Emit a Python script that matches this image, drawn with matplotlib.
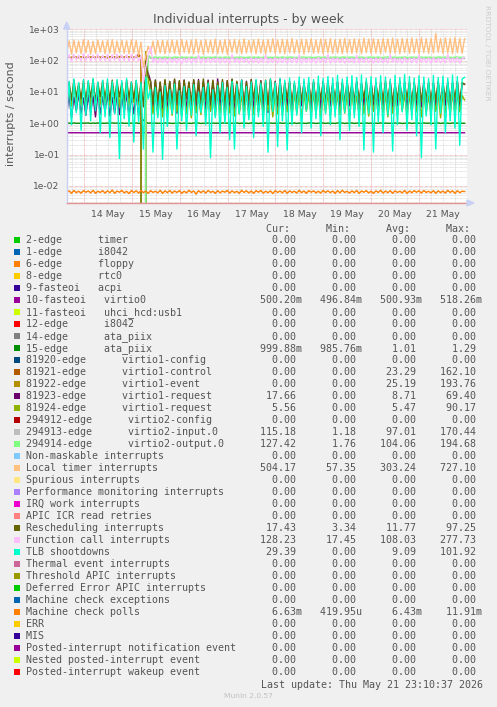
import numpy as np
import matplotlib
matplotlib.use("Agg")
import matplotlib.pyplot as plt
from matplotlib.patches import Rectangle, Polygon

W, H = 497, 707
TXT = "#555555"

# ---------------------------------------------------------------------------
# Data (day of May, 1 sample every 0.05 day; reboot around sample 32)
# ---------------------------------------------------------------------------
T_START = 13.645
T_END = 21.945
STEP = 0.05
X_MIN, X_MAX = 13.645, 21.99
Y_MIN, Y_MAX = 10 ** -2.553, 10 ** 3.026

days = [14, 15, 16, 17, 18, 19, 20, 21]
day_labels = ["14 May", "15 May", "16 May", "17 May", "18 May", "19 May", "20 May", "21 May"]
decades = [1e-2, 1e-1, 1e0, 1e1, 1e2, 1e3]

local_timer = [
    170, 430, 160, 455, 175, 420, 165, 465, 180, 440,
    160, 415, 170, 455, 185, 430, 165, 445, 175, 470,
    160, 425, 180, 450, 170, 435, 165, 460, 175, 440,
    150, 390, 60, 140, 290, 170, 420, 160, 440, 175,
    450, 165, 430, 180, 460, 170, 445, 160, 470, 185,
    435, 170, 455, 165, 480, 175, 440, 160, 465, 180,
    450, 170, 490, 165, 445, 175, 470, 160, 455, 185,
    480, 170, 460, 165, 500, 175, 445, 180, 470, 165,
    490, 175, 455, 160, 475, 185, 500, 170, 460, 175,
    485, 165, 470, 180, 510, 170, 455, 175, 490, 160,
    475, 185, 500, 170, 465, 175, 495, 165, 480, 180,
    505, 170, 470, 175, 490, 165, 515, 180, 475, 170,
    500, 175, 485, 165, 520, 180, 490, 170, 505, 175,
    480, 165, 510, 185, 495, 170, 525, 175, 490, 165,
    515, 180, 500, 170, 530, 175, 495, 165, 540, 180,
    505, 170, 520, 175, 727.1, 185, 510, 170, 535, 175,
    515, 165, 545, 180, 520, 170, 504.17,
]

function_call = [
    100, 155, 95, 160, 105, 150, 98, 165, 102, 158,
    96, 152, 104, 162, 99, 148, 101, 160, 95, 155,
    103, 163, 97, 150, 100, 158, 94, 161, 102, 154,
    98, 140, 20, 60, 150, 270, 88, 118, 84, 122,
    86, 120, 83, 125, 87, 118, 85, 123, 82, 119,
    88, 126, 84, 121, 86, 150, 83, 120, 87, 124,
    85, 118, 89, 127, 84, 122, 86, 119, 83, 155,
    87, 121, 85, 124, 88, 118, 84, 126, 86, 120,
    83, 123, 87, 148, 85, 119, 88, 125, 84, 121,
    86, 124, 83, 118, 87, 127, 85, 152, 84, 120,
    88, 123, 86, 119, 83, 126, 87, 121, 85, 157,
    84, 122, 88, 125, 86, 118, 83, 124, 87, 120,
    85, 149, 84, 121, 88, 126, 86, 119, 83, 123,
    87, 125, 85, 120, 84, 154, 88, 122, 86, 118,
    83, 126, 87, 121, 85, 124, 84, 150, 88, 119,
    86, 123, 83, 127, 87, 120, 85, 122, 84, 158,
    88, 121, 86, 125, 83, 119, 128.23,
]

virtio2_output = [
    0, 0, 0, 0, 0, 0, 0, 0, 0, 0,
    0, 0, 0, 0, 0, 0, 0, 0, 0, 0,
    0, 0, 0, 0, 0, 0, 0, 0, 0, 0,
    0, 0, 0, 1.76, 150, 128, 126, 130, 127, 129,
    126, 131, 127, 128, 125, 130, 128, 127, 131, 126,
    129, 127, 130, 126, 128, 132, 127, 129, 126, 130,
    128, 126, 131, 127, 129, 125, 130, 128, 127, 131,
    126, 129, 128, 130, 127, 126, 131, 128, 129, 127,
    130, 126, 128, 131, 127, 129, 126, 130, 128, 127,
    131, 128, 126, 129, 130, 127, 128, 126, 131, 129,
    127, 130, 128, 126, 129, 131, 127, 128, 130, 126,
    129, 127, 131, 128, 126, 130, 129, 127, 128, 131,
    126, 129, 128, 130, 127, 126, 131, 129, 128, 127,
    130, 128, 126, 129, 131, 127, 128, 130, 126, 129,
    128, 131, 127, 126, 130, 129, 128, 127, 131, 126,
    129, 130, 128, 127, 126, 131, 129, 128, 130, 127,
    128, 126, 130, 129, 127, 128, 127.42,
]

virtio2_input = [
    0, 0, 0, 0, 0, 0, 0, 0, 0, 0,
    0, 0, 0, 0, 0, 0, 0, 0, 0, 0,
    0, 0, 0, 0, 0, 0, 0, 0, 0, 0,
    0, 0, 0, 1.18, 140, 117, 115, 119, 116, 118,
    115, 120, 116, 117, 114, 119, 117, 116, 120, 115,
    118, 116, 119, 115, 117, 121, 116, 118, 115, 119,
    117, 115, 120, 116, 118, 114, 119, 117, 116, 120,
    115, 118, 117, 119, 116, 115, 120, 117, 118, 116,
    119, 115, 117, 120, 116, 118, 115, 119, 117, 116,
    120, 117, 115, 118, 119, 116, 117, 115, 120, 118,
    116, 119, 117, 115, 118, 120, 116, 117, 119, 115,
    118, 116, 120, 117, 115, 119, 118, 116, 117, 120,
    115, 118, 117, 119, 116, 115, 120, 118, 117, 116,
    119, 117, 115, 118, 120, 116, 117, 119, 115, 118,
    117, 120, 116, 115, 119, 118, 117, 116, 120, 115,
    118, 119, 117, 116, 115, 120, 118, 117, 119, 116,
    117, 115, 119, 118, 116, 117, 115.18,
]

# virtio1 control/event only exist before the reboot
virtio1_control = [
    125, 128, 122, 131, 126, 124, 129, 127, 123, 130,
    126, 128, 124, 132, 125, 127, 129, 123, 131, 126,
    128, 124, 130, 127, 125, 133, 126, 129, 124, 128,
    162.1, 127, 0, 0,
]

virtio1_event = [
    130, 133, 128, 135, 131, 129, 134, 132, 127, 136,
    131, 133, 129, 137, 130, 132, 134, 128, 135, 131,
    133, 129, 136, 132, 130, 138, 131, 134, 129, 133,
    135, 132, 0, 193.76, 0,
]

rescheduling = [
    6, 21, 5.5, 24, 7, 19, 6, 23, 5, 22,
    6.5, 25, 5, 20, 7, 23, 6, 21, 5.5, 24,
    6, 22, 7, 19, 5, 24, 6.5, 21, 6, 23,
    5, 20, 3.34, 97.25, 30, 22, 4.5, 24, 5, 21,
    4, 25, 5.5, 22, 4.5, 26, 5, 23, 4, 24,
    6, 21, 4.5, 25, 5, 23, 4, 26, 5.5, 22,
    4.5, 24, 5, 21, 6, 25, 4, 23, 5, 26,
    4.5, 22, 5.5, 24, 4, 21, 5, 25, 6, 23,
    4.5, 22, 5, 24, 4, 26, 5.5, 21, 4.5, 23,
    5, 20, 6, 22, 4.5, 19, 5, 21, 5.5, 18,
    6, 20, 5, 22, 4.5, 19, 6, 21, 5, 23,
    5.5, 18, 6, 21, 5, 20, 4.5, 22, 6, 19,
    5, 21, 5.5, 18, 6, 22, 4.5, 20, 5, 19,
    6, 21, 5, 23, 5.5, 20, 4.5, 18, 6, 22,
    5, 19, 6, 21, 4.5, 20, 5.5, 23, 5, 18,
    6, 21, 5, 19, 5.5, 22, 4.5, 20, 6, 21,
    5, 19, 6, 22, 4.5, 20, 17.43,
]

virtio1_request_a = [
    2, 8, 1.5, 7, 2.5, 9, 2, 6.5, 1.8, 8,
    2.2, 7.5, 1.6, 9, 2, 7, 2.4, 8.5, 1.7, 6.8,
    2.1, 8.2, 1.9, 7.2, 2.3, 9.1, 1.6, 7.8, 2, 8.4,
    1.8, 7, 0, 69.4, 40, 22, 2.5, 24, 2.2, 20,
    2.8, 23, 2.3, 21, 2.6, 25, 2.1, 22, 2.9, 24,
    2.4, 20, 2.7, 23, 2.2, 25, 2.5, 21, 2.3, 24,
    2.6, 22, 2.1, 26, 2.8, 21, 2.4, 23, 2.2, 25,
    2.7, 20, 2.3, 24, 2.5, 22, 2.1, 25, 2.6, 21,
    2.4, 23, 2.8, 20, 2.2, 24, 2.5, 22, 2.3, 26,
    3, 18, 3.5, 20, 2.8, 17, 3.2, 19, 3.6, 21,
    3.1, 18, 2.9, 20, 3.4, 17, 3, 22, 3.3, 19,
    3.5, 18, 3, 21, 2.8, 19, 3.2, 20, 3.6, 17,
    3.1, 22, 2.9, 19, 3.4, 18, 3, 21, 3.3, 20,
    3.5, 17, 3, 19, 2.8, 22, 3.2, 18, 3.6, 20,
    3.1, 21, 2.9, 18, 3.4, 20, 3, 19, 3.3, 22,
    3.5, 18, 3, 20, 2.8, 21, 3.2, 17, 3.6, 19,
    3.1, 20, 2.9, 21, 3.4, 19, 17.66,
]

virtio1_request_b = [
    4, 17, 3.5, 19, 4.5, 15, 3.8, 18, 4.2, 16,
    3.6, 19, 4.1, 17, 3.9, 15, 4.4, 18, 3.7, 16,
    4.3, 17, 3.5, 19, 4, 16, 3.8, 18, 4.6, 15,
    3.9, 17, 0, 90.17, 25, 9, 2, 8, 1.8, 9.5,
    1.6, 8.5, 2.1, 7.5, 1.8, 9, 2.3, 8, 1.7, 9.2,
    2, 7.8, 1.5, 8.8, 2.2, 7.2, 1.9, 9.4, 1.6, 8.1,
    2.4, 7.6, 1.8, 9.1, 2.1, 8.3, 1.5, 7.9, 2.2, 8.7,
    1.7, 9.3, 2, 7.4, 2.3, 8.6, 1.6, 8, 1.9, 9,
    2.2, 7.7, 1.8, 8.9, 2.5, 8.2, 1.6, 9.5, 2, 7.5,
    1.9, 8.4, 2.3, 7.3, 1.7, 9.1, 2.1, 8, 1.5, 8.8,
    2.4, 7.9, 1.8, 9.2, 2, 8.5, 1.6, 7.6, 2.2, 9,
    1.7, 8.3, 2.5, 7.8, 1.9, 9.4, 2.1, 8.1, 1.6, 8.7,
    2.3, 7.5, 1.8, 9, 2, 8.2, 1.7, 8.9, 2.4, 7.7,
    1.9, 9.3, 2.2, 8, 1.6, 8.6, 2.1, 7.4, 1.8, 9.1,
    2.5, 8.4, 1.7, 7.9, 2, 9.2, 2.3, 8.1, 1.6, 8.8,
    2.1, 7.6, 1.9, 9.5, 2.4, 8.3, 1.5, 8.7, 2.2, 7.8,
    1.8, 9, 2, 8.4, 2.3, 7.7, 5.56,
]

tlb_shootdowns = [
    1.5, 22, 0.9, 26, 2.2, 20, 0.6, 25, 1.8, 23,
    1.2, 27, 2.5, 21, 0.5, 24, 1.6, 26, 0.35, 22,
    2, 25, 0.075, 23, 1.4, 27, 0.8, 21, 0.25, 24,
    1.1, 20, 0.15, 30, 6, 12, 0.12, 14, 1.5, 10,
    0.07, 16, 0.8, 12, 2, 18, 0.15, 11, 1.2, 15,
    0.6, 13, 1.8, 17, 0.4, 10, 2.2, 14, 0.9, 19,
    0.08, 12, 1.5, 16, 0.5, 20, 1, 14, 0.3, 22,
    0.15, 18, 2, 24, 0.7, 15, 1.3, 21, 0.35, 25,
    1.6, 19, 0.8, 23, 0.12, 26, 2.4, 20, 0.18, 27,
    1.2, 24, 0.14, 28, 0.9, 22, 1.8, 30, 0.5, 26,
    2.5, 29, 0.7, 25, 1.4, 32, 0.4, 27, 2, 31,
    0.9, 28, 1.6, 34, 0.3, 26, 2.2, 30, 0.6, 33,
    1.5, 29, 0.8, 35, 0.14, 27, 2, 31, 0.12, 28,
    1.1, 33, 0.5, 30, 1.8, 26, 0.13, 34, 0.9, 29,
    2.3, 36, 0.6, 31, 1.3, 28, 0.4, 33, 0.08, 30,
    1.7, 27, 0.9, 34, 0.15, 29, 2.1, 32, 0.5, 28,
    1.2, 35, 0.7, 31, 0.2, 26, 29.39,
]

ata_piix_15 = [
    1.00, 1.02, 0.99, 1.03, 1.00, 1.01, 0.99, 1.02, 1.01, 1.03,
    0.99, 1.02, 1.00, 1.03, 0.99, 1.01, 1.00, 1.02, 0.99, 1.03,
    1.01, 1.02, 0.99, 1.03, 1.00, 1.01, 0.99, 1.02, 1.00, 1.03,
    0.99, 1.02, 1.29, 1.10, 1.00, 1.03, 0.99, 1.02, 1.00, 1.01,
    0.99, 1.03, 1.00, 1.02, 0.99, 1.01, 1.00, 1.03, 0.99, 1.02,
    1.00, 1.01, 0.99, 1.03, 1.00, 1.02, 0.99, 1.01, 1.00, 1.03,
    0.99, 1.02, 1.00, 1.01, 0.99, 1.03, 1.00, 1.02, 0.99, 1.01,
    1.00, 1.03, 0.99, 1.02, 1.00, 1.01, 0.99, 1.03, 1.00, 1.02,
    0.99, 1.01, 1.00, 1.03, 0.99, 1.02, 1.00, 1.01, 0.99, 1.03,
    1.00, 1.02, 0.99, 1.01, 1.00, 1.03, 0.99, 1.02, 1.00, 1.01,
    0.99, 1.03, 1.00, 1.02, 0.99, 1.01, 1.00, 1.03, 0.99, 1.02,
    1.00, 1.01, 0.99, 1.03, 1.00, 1.02, 0.99, 1.01, 1.00, 1.03,
    0.99, 1.02, 1.00, 1.01, 0.99, 1.03, 1.00, 1.02, 0.99, 1.01,
    1.00, 1.03, 0.99, 1.02, 1.00, 1.01, 0.99, 1.03, 1.00, 1.02,
    0.99, 1.01, 1.00, 1.03, 0.99, 1.02, 1.00, 1.01, 0.99, 1.03,
    1.00, 1.02, 0.99, 1.01, 1.00, 1.03, 0.99, 1.02, 1.00, 1.01,
    0.99, 1.03, 1.00, 1.02, 0.99, 1.01, 0.9999,
]

mc_polls = [
    0.0062, 0.0070, 0.0058, 0.0072, 0.0061, 0.0068, 0.0059, 0.0071, 0.0063, 0.0069,
    0.0060, 0.0073, 0.0058, 0.0068, 0.0062, 0.0071, 0.0059, 0.0070, 0.0061, 0.0074,
    0.0058, 0.0069, 0.0063, 0.0072, 0.0060, 0.0068, 0.0057, 0.0071, 0.0062, 0.0070,
    0.0059, 0.0072, 0.0061, 0.0069, 0.0058, 0.0071, 0.0062, 0.0068, 0.0060, 0.0073,
    0.0058, 0.0070, 0.0061, 0.0072, 0.0059, 0.0069, 0.0062, 0.0071, 0.0058, 0.0068,
    0.0060, 0.0073, 0.0062, 0.0069, 0.0055, 0.0071, 0.0061, 0.0070, 0.0059, 0.0072,
    0.0062, 0.0068, 0.0058, 0.0071, 0.0060, 0.0069, 0.0063, 0.0072, 0.0059, 0.0070,
    0.0061, 0.0068, 0.0058, 0.0073, 0.0062, 0.0070, 0.0060, 0.0069, 0.0058, 0.0071,
    0.0063, 0.0072, 0.0059, 0.0068, 0.0061, 0.0070, 0.0057, 0.0071, 0.0062, 0.0069,
    0.0060, 0.0072, 0.0058, 0.0070, 0.0062, 0.0068, 0.0059, 0.0073, 0.0061, 0.0069,
    0.0058, 0.0071, 0.0063, 0.0070, 0.0060, 0.0068, 0.0059, 0.0072, 0.0062, 0.0070,
    0.0061, 0.0069, 0.0058, 0.0071, 0.0060, 0.0073, 0.0062, 0.0068, 0.0059, 0.0070,
    0.0061, 0.0072, 0.0058, 0.0069, 0.0063, 0.0071, 0.0060, 0.0068, 0.0058, 0.0070,
    0.0062, 0.0073, 0.0059, 0.0069, 0.0061, 0.0071, 0.0058, 0.0070, 0.0062, 0.0068,
    0.0060, 0.0072, 0.0058, 0.0069, 0.0061, 0.0071, 0.0063, 0.0070, 0.0059, 0.0072,
    0.0062, 0.0068, 0.0060, 0.0071, 0.0058, 0.0070, 0.0061, 0.0069, 0.0059, 0.0073,
    0.0062, 0.0070, 0.0058, 0.0071, 0.0061, 0.0068, 0.00663,
]

# flat line, two samples per day
virtio0 = [0.501, 0.500, 0.502, 0.500, 0.501, 0.499, 0.500, 0.501, 0.500,
           0.502, 0.501, 0.500, 0.501, 0.500, 0.502, 0.501, 0.500]

# ---------------------------------------------------------------------------
# Legend table
# ---------------------------------------------------------------------------
legend_labels = [
    "2-edge      timer", "1-edge      i8042", "6-edge      floppy", "8-edge      rtc0",
    "9-fasteoi   acpi", "10-fasteoi   virtio0", "11-fasteoi   uhci_hcd:usb1",
    "12-edge      i8042", "14-edge      ata_piix", "15-edge      ata_piix",
    "81920-edge      virtio1-config", "81921-edge      virtio1-control",
    "81922-edge      virtio1-event", "81923-edge      virtio1-request",
    "81924-edge      virtio1-request", "294912-edge      virtio2-config",
    "294913-edge      virtio2-input.0", "294914-edge      virtio2-output.0",
    "Non-maskable interrupts", "Local timer interrupts", "Spurious interrupts",
    "Performance monitoring interrupts", "IRQ work interrupts", "APIC ICR read retries",
    "Rescheduling interrupts", "Function call interrupts", "TLB shootdowns",
    "Thermal event interrupts", "Threshold APIC interrupts",
    "Deferred Error APIC interrupts", "Machine check exceptions", "Machine check polls",
    "ERR", "MIS", "Posted-interrupt notification event", "Nested posted-interrupt event",
    "Posted-interrupt wakeup event",
]
legend_colors = [
    "#00CC00", "#0066B3", "#FF8000", "#FFCC00", "#330099", "#990099", "#CCFF00",
    "#FF0000", "#808080", "#008F00", "#00487D", "#B35A00", "#B38F00", "#6B006B",
    "#8FB300", "#B30000", "#BEBEBE", "#80FF80", "#80C9FF", "#FFC080", "#FFE680",
    "#AA80FF", "#EE00CC", "#FF8080", "#666600", "#FFBFFF", "#00FFCC", "#CC6699",
    "#999900", "#00CC00", "#0066B3", "#FF8000", "#FFCC00", "#330099", "#990099",
    "#CCFF00", "#FF0000",
]
Z = "0.00"
cur_vals = [Z, Z, Z, Z, Z, "500.20m", Z, Z, Z, "999.88m", Z, Z, Z, "17.66", "5.56", Z,
            "115.18", "127.42", Z, "504.17", Z, Z, Z, Z, "17.43", "128.23", "29.39",
            Z, Z, Z, Z, "6.63m", Z, Z, Z, Z, Z]
min_vals = [Z, Z, Z, Z, Z, "496.84m", Z, Z, Z, "985.76m", Z, Z, Z, Z, Z, Z,
            "1.18", "1.76", Z, "57.35", Z, Z, Z, Z, "3.34", "17.45", Z,
            Z, Z, Z, Z, "419.95u", Z, Z, Z, Z, Z]
avg_vals = [Z, Z, Z, Z, Z, "500.93m", Z, Z, Z, "1.01", Z, "23.29", "25.19", "8.71", "5.47", Z,
            "97.01", "104.06", Z, "303.24", Z, Z, Z, Z, "11.77", "108.03", "9.09",
            Z, Z, Z, Z, "6.43m", Z, Z, Z, Z, Z]
max_vals = [Z, Z, Z, Z, Z, "518.26m", Z, Z, Z, "1.29", Z, "162.10", "193.76", "69.40", "90.17", Z,
            "170.44", "194.68", Z, "727.10", Z, Z, Z, Z, "97.25", "277.73", "101.92",
            Z, Z, Z, Z, "11.91m", Z, Z, Z, Z, Z]

# series actually visible on the log axis, in munin drawing order
drawn = [
    (5, virtio0, "span"),
    (9, ata_piix_15, "step"),
    (11, virtio1_control, "step"),
    (12, virtio1_event, "step"),
    (13, virtio1_request_a, "step"),
    (14, virtio1_request_b, "step"),
    (16, virtio2_input, "step"),
    (17, virtio2_output, "step"),
    (19, local_timer, "step"),
    (24, rescheduling, "step"),
    (25, function_call, "step"),
    (26, tlb_shootdowns, "step"),
    (31, mc_polls, "step"),
]


def fx(x):
    return x / W


def fy(y):
    return 1 - y / H


fig = plt.figure(figsize=(W / 100, H / 100), dpi=100, facecolor="#F0F0F0")
ax = fig.add_axes([fx(66.7), fy(203.3), 400 / W, (203.3 - 28.5) / H])
ax.set_facecolor("white")
ax.set_yscale("log", nonpositive="clip")
ax.set_xlim(X_MIN, X_MAX)
ax.set_ylim(Y_MIN, Y_MAX)

# rrdtool style dotted grid
dot = (0, (0.75, 0.75))
for d in days:
    for q in (0.25, 0.5, 0.75):
        if d + q < X_MAX:
            ax.axvline(d + q, color="#D2D2D2", lw=0.6, ls=dot, zorder=0)
    ax.axvline(d, color="#E8A0A0", lw=0.6, ls=dot, zorder=0.5)
ax.axvline(days[0] - 0.25, color="#D2D2D2", lw=0.6, ls=dot, zorder=0)
for dec in decades:
    for m in range(2, 10):
        if Y_MIN < dec / 10 * m < Y_MAX:
            ax.axhline(dec / 10 * m, color="#D2D2D2", lw=0.6, ls=dot, zorder=0)
    ax.axhline(dec, color="#E8A0A0", lw=0.6, ls=dot, zorder=0.5)

for idx, vals, kind in drawn:
    if kind == "span":
        t = np.linspace(T_START, T_END, len(vals))
    else:
        t = T_START + STEP * np.arange(len(vals))
    ax.plot(t, vals, color=legend_colors[idx], lw=1.0, zorder=2)

ax.set_xticks([d + 0.5 for d in days])
ax.set_xticklabels(day_labels)
ax.set_yticks(decades)
ax.set_yticklabels([f"{v:.0e}" for v in decades])
ax.minorticks_off()
ax.tick_params(axis="x", length=0, pad=4.5, labelsize=6.7, labelcolor=TXT)
ax.tick_params(axis="y", length=0, pad=5, labelsize=6.6, labelcolor=TXT)
for s in ("top", "right"):
    ax.spines[s].set_visible(False)
ax.spines["left"].set_color("#C8D0F4")
ax.spines["bottom"].set_color("#E49494")
ax.spines["left"].set_linewidth(1)
ax.spines["bottom"].set_linewidth(1)

# axis arrows
fig.add_artist(Polygon([(fx(63.7), fy(29)), (fx(69.7), fy(29)), (fx(66.7), fy(22))],
                       closed=True, transform=fig.transFigure, color="#C8D0F4"))
fig.add_artist(Polygon([(fx(467), fy(200)), (fx(467), fy(206)), (fx(474), fy(203))],
                       closed=True, transform=fig.transFigure, color="#C8D0F4"))

fig.text(0.5, fy(19.5), "Individual interrupts - by week", ha="center", va="center",
         fontsize=9.0, color=TXT)
fig.text(fx(10.7), fy(114), "interrupts / second", rotation=90, ha="center", va="center",
         fontsize=7.9, color=TXT)
fig.text(fx(487), fy(53), "RRDTOOL / TOBI OETIKER", rotation=270, ha="center", va="center",
         fontsize=5.4, color="#CCCCCC")

# legend rows (monospaced, 6 px per char)
mono = dict(family="DejaVu Sans Mono", fontsize=7.2, color=TXT)


def cell(s):
    if s[-1].isalpha():
        return "   " + s[:-1].rjust(6) + s[-1]
    return "   " + s.rjust(6) + " "


fig.text(fx(26), fy(229 + 3.5), " " * 40 + "Cur:      Min:      Avg:      Max:",
         va="baseline", ha="left", **mono)
for i, lab in enumerate(legend_labels):
    y = 240 + 11.99 * i
    fig.add_artist(Rectangle((fx(14), fy(y + 3)), 6 / W, 6 / H, transform=fig.transFigure,
                             color=legend_colors[i], lw=0))
    row = lab.ljust(36) + cell(cur_vals[i]) + cell(min_vals[i]) + cell(avg_vals[i]) + cell(max_vals[i])
    fig.text(fx(26), fy(y + 3.5), row, va="baseline", ha="left", **mono)

fig.text(fx(482.7), fy(684.3 + 3.5), "Last update: Thu May 21 23:10:37 2026",
         va="baseline", ha="right", **mono)
fig.text(fx(248), fy(695.7), "Munin 2.0.57", ha="center", va="center",
         fontsize=5.4, color="#C0C0C0")

fig.savefig("out.png", dpi=100, facecolor=fig.get_facecolor())
